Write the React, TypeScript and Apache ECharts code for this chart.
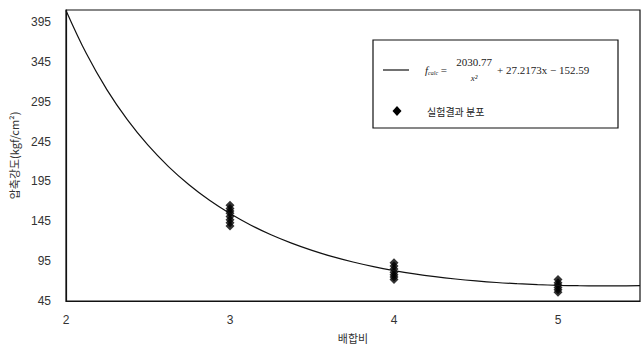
import React, { useEffect, useRef } from "react";
import * as echarts from "echarts";

const curveX = [2, 2.125, 2.25, 2.375, 2.5, 2.625, 2.75, 2.875, 3, 3.125, 3.25, 3.375, 3.5, 3.625, 3.75, 3.875, 4, 4.125, 4.25, 4.375, 4.5, 4.625, 4.75, 4.875, 5, 5.125, 5.25, 5.375, 5.5];
const curveY = [409.5, 355.0, 309.8, 272.1, 240.4, 213.6, 190.8, 171.3, 154.7, 140.4, 128.1, 117.6, 108.5, 100.6, 93.9, 88.1, 83.2, 79.0, 75.5, 72.6, 70.2, 68.2, 66.7, 65.5, 64.7, 64.2, 64.0, 64.0, 64.2];

const testX3 = [165, 161, 158, 155, 151, 147, 143, 139];
const testX4 = [93, 89, 85, 81, 78, 75, 72];
const testX5 = [72, 68, 65, 62, 59, 56];

const yTicks = [45, 95, 145, 195, 245, 295, 345, 395];
const xTicks = [2, 3, 4, 5];

export default function App() {
  const ref = useRef<HTMLDivElement>(null);
  useEffect(() => {
    if (!ref.current) return;
    const chart = echarts.init(ref.current, null, { renderer: "svg" });
    const curve = curveX.map((x, i) => [x, curveY[i]]);
    const pts: number[][] = [];
    testX3.forEach((v) => pts.push([3, v]));
    testX4.forEach((v) => pts.push([4, v]));
    testX5.forEach((v) => pts.push([5, v]));
    const serif = "'Liberation Serif', 'DejaVu Serif', serif";
    chart.setOption({
      animation: false,
      backgroundColor: "#fff",
      grid: { left: 63, right: 1, top: 10, bottom: 46, show: true, borderColor: "#111", borderWidth: 1.2, backgroundColor: "transparent" },
      xAxis: {
        type: "value",
        min: 2,
        max: 5.5,
        interval: 1,
        name: "배합비",
        nameLocation: "middle",
        nameGap: 31,
        nameTextStyle: { fontFamily: "'Noto Sans CJK KR', sans-serif", fontSize: 11, color: "#333" },
        axisLine: { show: true, lineStyle: { color: "#111", width: 1.2 } },
        axisTick: { show: false },
        splitLine: { show: false },
        axisLabel: {
          margin: 13,
          color: "#333",
          fontFamily: "'Liberation Sans', Arial, sans-serif",
          fontSize: 12,
          showMaxLabel: false,
          formatter: (v: number) => (xTicks.includes(v) ? String(v) : ""),
        },
      },
      yAxis: {
        type: "value",
        min: 45,
        max: 410,
        interval: 50,
        name: "압축강도(kgf/cm²)",
        nameLocation: "middle",
        nameGap: 47,
        nameRotate: 90,
        nameTextStyle: { fontFamily: "'Noto Sans CJK KR', sans-serif", fontSize: 11, color: "#333" },
        axisLine: { show: true, lineStyle: { color: "#111", width: 1.2 } },
        axisTick: { show: false },
        splitLine: { show: false },
        axisLabel: {
          margin: 15,
          color: "#333",
          fontFamily: "'Liberation Sans', Arial, sans-serif",
          fontSize: 12,
          showMaxLabel: false,
          formatter: (v: number) => (yTicks.includes(v) ? String(v) : ""),
        },
      },
      series: [
        {
          type: "line",
          data: curve,
          smooth: 0.4,
          symbol: "none",
          lineStyle: { color: "#111", width: 1.2 },
        },
        {
          type: "scatter",
          data: pts,
          symbol: "diamond",
          symbolSize: 9,
          itemStyle: { color: "#000" },
        },
      ],
      graphic: [
        {
          type: "rect",
          shape: { x: 373, y: 40, width: 245, height: 88 },
          style: { fill: "#fff", stroke: "#111", lineWidth: 1.2 },
        },
        {
          type: "line",
          shape: { x1: 383, y1: 70, x2: 409, y2: 70 },
          style: { stroke: "#111", lineWidth: 1.2 },
        },
        {
          type: "text",
          x: 425,
          y: 70,
          style: {
            text: "{f|f}{s|calc} =",
            rich: {
              f: { fontFamily: serif, fontStyle: "italic", fontSize: 11, fill: "#222" },
              s: { fontFamily: serif, fontStyle: "italic", fontSize: 6, fill: "#222", padding: [5, 0, 0, 0] },
            },
            font: "11px " + serif,
            fill: "#222",
            verticalAlign: "middle",
          },
        },
        {
          type: "text",
          x: 474,
          y: 62,
          style: { text: "2030.77", font: "11px " + serif, fill: "#222", align: "center", verticalAlign: "middle" },
        },
        {
          type: "text",
          x: 474,
          y: 78,
          style: { text: "x²", font: "italic 9px " + serif, fill: "#222", align: "center", verticalAlign: "middle" },
        },
        {
          type: "text",
          x: 497,
          y: 70,
          style: { text: "+ 27.2173x − 152.59", font: "11px " + serif, fill: "#222", verticalAlign: "middle" },
        },
        {
          type: "polygon",
          shape: { points: [[397, 106], [401.5, 111], [397, 116], [392.5, 111]] },
          style: { fill: "#000" },
        },
        {
          type: "text",
          x: 427,
          y: 111,
          style: { text: "실험결과 분포", font: "10px 'Noto Sans CJK KR', sans-serif", fill: "#222", verticalAlign: "middle" },
        },
      ],
    });
    return () => chart.dispose();
  }, []);
  return <div ref={ref} style={{ width: 641, height: 348, position: "absolute", left: 0, top: 0 }} />;
}
